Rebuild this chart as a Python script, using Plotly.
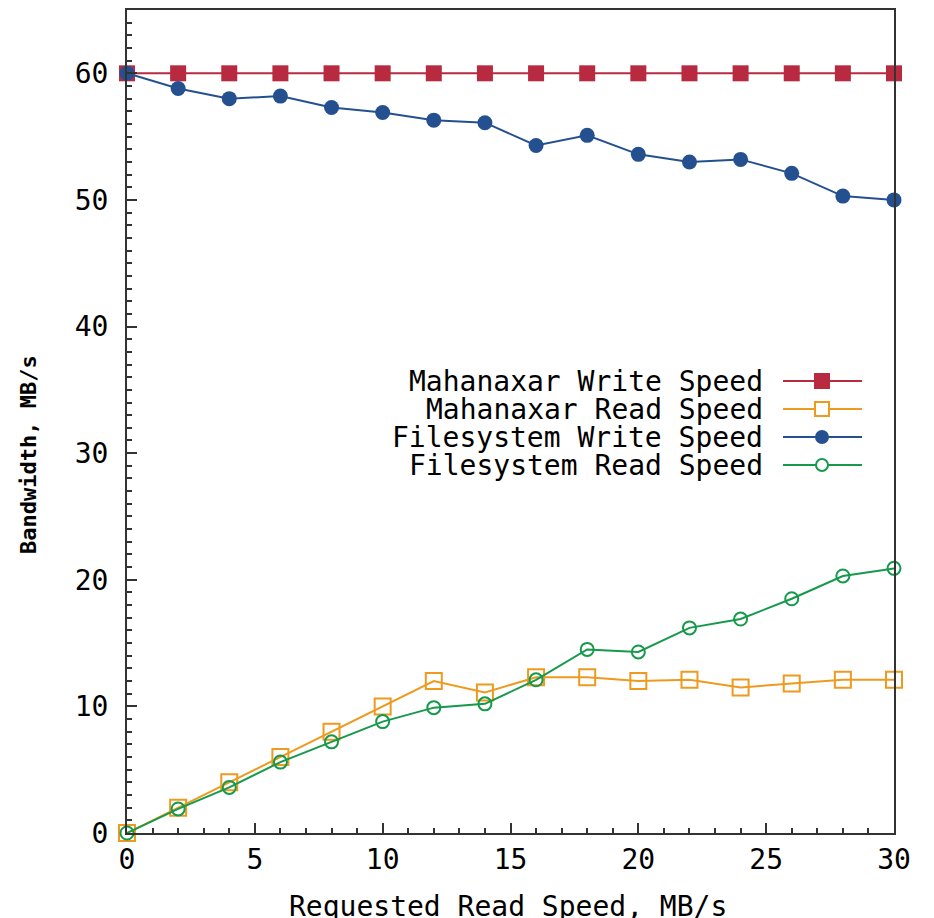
import plotly.graph_objects as go

x_vals = [0, 2, 4, 6, 8, 10, 12, 14, 16, 18, 20, 22, 24, 26, 28, 30]
mahanaxar_write = [60, 60, 60, 60, 60, 60, 60, 60, 60, 60, 60, 60, 60, 60, 60, 60]
mahanaxar_read = [0, 2.0, 4.0, 6.0, 8.0, 10.0, 12.0, 11.1, 12.3, 12.3, 12.0, 12.1, 11.5, 11.8, 12.1, 12.1]
fs_write = [60, 58.8, 58.0, 58.2, 57.3, 56.9, 56.3, 56.1, 54.3, 55.1, 53.6, 53.0, 53.2, 52.1, 50.3, 50.0]
fs_read = [0, 1.9, 3.6, 5.6, 7.2, 8.8, 9.9, 10.2, 12.1, 14.5, 14.3, 16.2, 16.9, 18.5, 20.3, 20.9]

names = ["Mahanaxar Write Speed", "Mahanaxar Read Speed", "Filesystem Write Speed", "Filesystem Read Speed"]
colors = ["#B72A3F", "#EE9A1E", "#25508F", "#16994B"]
x_ticks = [0, 5, 10, 15, 20, 25, 30]
y_ticks = [0, 10, 20, 30, 40, 50, 60]

FONT = "DejaVu Sans Mono"
OFF = 8  # page body margin
W, H = 934 - OFF, 918 - OFF
# plot area in screen pixels: left 127, top 10, right 894, bottom 833
L, T = 127 - OFF, 10 - OFF
R, B = 934 - 894, 918 - 833
PW, PH = 894 - 127, 833 - 10

def px(xs):
    return (xs - 127) / PW

def py(ys):
    return (833 - ys) / PH

fig = go.Figure()
series = [mahanaxar_write, mahanaxar_read, fs_write, fs_read]
markers = [
    dict(symbol="square", size=16, color=colors[0]),
    dict(symbol="square-open", size=16, color=colors[1], line=dict(width=2, color=colors[1])),
    dict(symbol="circle", size=15, color=colors[2]),
    dict(symbol="circle-open", size=13, color=colors[3], line=dict(width=2, color=colors[3])),
]
for name, ys, c, m in zip(names, series, colors, markers):
    fig.add_trace(go.Scatter(x=x_vals, y=ys, name=name, mode="lines+markers",
                             line=dict(color=c, width=2), marker=m,
                             cliponaxis=False, showlegend=False))

# manual gnuplot-style legend (text right, sample on right)
rows_y = [381, 409, 437, 465]
shapes = []
annotations = []
for i, (name, c) in enumerate(zip(names, colors)):
    yy = py(rows_y[i])
    annotations.append(dict(x=px(765), y=yy, xref="paper", yref="paper", text=name,
                            showarrow=False, xanchor="right", yanchor="middle",
                            font=dict(family=FONT, size=28, color="black")))
    shapes.append(dict(type="line", xref="paper", yref="paper", x0=px(783), x1=px(862),
                       y0=yy, y1=yy, line=dict(color=c, width=2)))
    xc = px(822)
    if i == 0:
        shapes.append(dict(type="rect", xref="paper", yref="paper", xsizemode="pixel", ysizemode="pixel",
                           xanchor=xc, yanchor=yy, x0=-8, x1=8, y0=-8, y1=8,
                           fillcolor=c, line=dict(width=0)))
    elif i == 1:
        shapes.append(dict(type="rect", xref="paper", yref="paper", xsizemode="pixel", ysizemode="pixel",
                           xanchor=xc, yanchor=yy, x0=-7, x1=7, y0=-7, y1=7,
                           fillcolor="white", line=dict(color=c, width=2)))
    elif i == 2:
        shapes.append(dict(type="circle", xref="paper", yref="paper", xsizemode="pixel", ysizemode="pixel",
                           xanchor=xc, yanchor=yy, x0=-7, x1=7, y0=-7, y1=7,
                           fillcolor=c, line=dict(width=0)))
    else:
        shapes.append(dict(type="circle", xref="paper", yref="paper", xsizemode="pixel", ysizemode="pixel",
                           xanchor=xc, yanchor=yy, x0=-6, x1=6, y0=-6, y1=6,
                           fillcolor="white", line=dict(color=c, width=2)))

annotations.append(dict(x=px(508), y=py(906), xref="paper", yref="paper",
                        text="Requested Read Speed, MB/s", showarrow=False,
                        xanchor="center", yanchor="middle",
                        font=dict(family=FONT, size=28, color="black")))
annotations.append(dict(x=px(28), y=py(455), xref="paper", yref="paper",
                        text="Bandwidth, MB/s", showarrow=False, textangle=-90,
                        xanchor="center", yanchor="middle",
                        font=dict(family=FONT, size=22, color="black", weight="bold")))

axis_common = dict(showgrid=False, zeroline=False, showline=True, linecolor="#333333", linewidth=2,
                   mirror=True, ticks="inside", ticklen=10, tickwidth=2, tickcolor="#333333",
                   tickfont=dict(family=FONT, size=28, color="black"))
fig.update_xaxes(range=[0, 30], tickvals=x_ticks, ticktext=[str(v) for v in x_ticks],
                 minor=dict(ticks="inside", ticklen=5, dtick=1, tickwidth=2, tickcolor="#333333"),
                 **axis_common)
fig.update_yaxes(range=[0, 65], tickvals=y_ticks, ticktext=[str(v) for v in y_ticks],
                 ticklabelstandoff=11,
                 minor=dict(ticks="inside", ticklen=5, dtick=1, tickwidth=2, tickcolor="#333333"),
                 **axis_common)

fig.update_layout(width=W, height=H, margin=dict(l=L, r=R, t=T, b=B, autoexpand=False),
                  paper_bgcolor="white", plot_bgcolor="white",
                  shapes=shapes, annotations=annotations, showlegend=False)
fig.write_html("out.html")
